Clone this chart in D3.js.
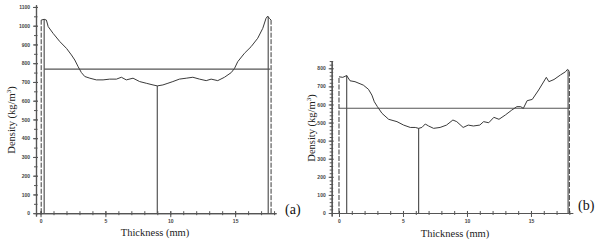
<!DOCTYPE html>
<html>
<head>
<meta charset="utf-8">
<script src="https://cdn.jsdelivr.net/npm/d3@7"></script>
<style>
  body { margin: 0; background: #fff; }
  svg { display: block; }
</style>
</head>
<body>
<svg id="chart" width="605" height="240"></svg>
<script>
// Panel (a) density profile
var thicknessA = [0.05, 0.28, 0.45, 0.59, 0.97, 1.49, 2.0, 2.38, 2.64, 2.9, 3.15, 3.41, 3.8, 4.3, 4.82, 5.33, 5.85, 6.23, 6.61, 7.13, 7.64, 8.15, 8.67, 9.0, 9.43, 9.82, 10.2, 10.7, 11.23, 11.74, 12.26, 12.77, 13.15, 13.66, 14.18, 14.7, 14.95, 15.2, 15.72, 16.23, 16.74, 17.13, 17.38, 17.51, 17.64, 17.77];
var densityA = [1030, 1034, 1030, 995, 959, 915, 879, 844, 817, 781, 750, 729, 720, 711, 711, 715, 715, 725, 711, 720, 702, 693, 684, 679, 684, 693, 702, 715, 720, 725, 715, 707, 715, 707, 725, 750, 772, 808, 853, 888, 933, 986, 1039, 1051, 1039, 1030];
var meanA = 768;
var markersA = [0.28, 9.0, 17.55];

// Panel (b) density profile
var thicknessB = [0.0, 0.3, 0.6, 0.86, 1.25, 1.9, 2.3, 2.57, 2.76, 3.0, 3.36, 3.88, 4.53, 5.05, 5.57, 5.96, 6.22, 6.48, 6.74, 7.0, 7.39, 7.9, 8.4, 8.9, 9.2, 9.7, 10.1, 10.5, 11.0, 11.3, 11.7, 12.1, 12.5, 13.0, 13.5, 13.9, 14.2, 14.4, 14.7, 15.1, 15.6, 16.2, 16.4, 16.8, 17.3, 17.7, 17.85, 18.0];
var densityB = [753, 750, 760, 731, 726, 707, 684, 652, 615, 588, 551, 518, 505, 486, 473, 473, 468, 473, 492, 481, 468, 473, 486, 514, 505, 473, 486, 481, 486, 505, 499, 529, 518, 542, 569, 588, 588, 578, 621, 628, 680, 750, 726, 738, 763, 781, 794, 785];
var meanB = 579;
var markersB = [0.6, 6.22, 17.9];

var xMajor = [0, 5, 10, 15];
var xMinor = d3.range(0, 19);
var yMajorA = d3.range(0, 1101, 100);
var yMinorA = d3.range(0, 1101, 50);
var yMajorB = d3.range(0, 801, 100);
var yMinorB = d3.range(0, 841, 20);

var svg = d3.select("#chart");
var ink = "#3a3a3a";

function panel(cfg) {
    var g = svg.append("g");
    var x = d3.scaleLinear().domain(cfg.xDomain).range(cfg.xRange);
    var y = d3.scaleLinear().domain(cfg.yDomain).range(cfg.yRange);
    var x0 = cfg.xRange[0], y0 = y(0);

    // minor ticks
    g.append("g")
        .attr("transform", "translate(0," + y0 + ")")
        .call(d3.axisBottom(x).tickValues(xMinor).tickSize(2).tickSizeOuter(0).tickFormat(""))
        .call(s => s.selectAll("line").attr("y1", -2));
    g.append("g")
        .attr("transform", "translate(" + x0 + ",0)")
        .call(d3.axisLeft(y).tickValues(cfg.yMinor).tickSize(2).tickSizeOuter(0).tickFormat(""))
        .call(s => s.selectAll("line").attr("x1", 1.5));

    // major ticks with labels
    g.append("g")
        .attr("transform", "translate(0," + y0 + ")")
        .call(d3.axisBottom(x).tickValues(xMajor).tickSize(4).tickSizeOuter(0).tickPadding(2).tickFormat(d3.format("d")))
        .call(s => s.selectAll("line").attr("y1", -2));
    g.append("g")
        .attr("transform", "translate(" + x0 + ",0)")
        .call(d3.axisLeft(y).tickValues(cfg.yMajor).tickSize(3).tickSizeOuter(0).tickPadding(3).tickFormat(d3.format("d")))
        .call(s => s.selectAll("line").attr("x1", 2));

    g.selectAll(".domain").attr("stroke", "#555").attr("stroke-width", 1.2);
    g.selectAll(".tick line").attr("stroke", "#555");
    g.selectAll(".tick text")
        .attr("font-family", "Arial, 'Liberation Sans', sans-serif")
        .attr("font-size", 5)
        .attr("font-weight", "bold")
        .attr("fill", "#444");

    var pts = cfg.t.map((d, i) => [d, cfg.d[i]]);
    var first = pts[0], last = pts[pts.length - 1];

    // dashed edges of the profile
    [first, last].forEach(p => {
        g.append("line")
            .attr("x1", x(p[0])).attr("x2", x(p[0]))
            .attr("y1", y(0)).attr("y2", y(p[1]))
            .attr("stroke", ink).attr("stroke-width", 1)
            .attr("stroke-dasharray", "5,1.5");
    });

    // marker verticals
    var interp = t => {
        for (var i = 1; i < pts.length; i++) {
            if (pts[i][0] >= t) {
                var a = pts[i - 1], b = pts[i];
                return a[1] + (b[1] - a[1]) * (t - a[0]) / (b[0] - a[0]);
            }
        }
        return last[1];
    };
    cfg.markers.forEach(m => {
        g.append("line")
            .attr("x1", x(m)).attr("x2", x(m))
            .attr("y1", y(0)).attr("y2", y(interp(m)))
            .attr("stroke", "#555").attr("stroke-width", 1.2);
    });

    // mean line
    g.append("line")
        .attr("x1", x(cfg.meanFrom)).attr("x2", x(cfg.meanTo))
        .attr("y1", y(cfg.mean)).attr("y2", y(cfg.mean))
        .attr("stroke", "#555").attr("stroke-width", 1.2);

    // profile curve
    g.append("path")
        .datum(pts)
        .attr("fill", "none")
        .attr("stroke", ink)
        .attr("stroke-width", 1)
        .attr("d", d3.line().x(d => x(d[0])).y(d => y(d[1])));

    // labels
    var ylab = g.append("text")
        .attr("transform", "translate(" + cfg.yLabelX + "," + cfg.yLabelY + ") rotate(-90)")
        .attr("text-anchor", "middle")
        .attr("font-family", "'Liberation Serif', 'Times New Roman', serif")
        .attr("font-size", 10.5)
        .attr("fill", "#222");
    ylab.append("tspan").text("Density (kg/m");
    ylab.append("tspan").attr("font-size", 7).attr("dy", -4).text("3");
    ylab.append("tspan").attr("dy", 4).text(")");

    g.append("text")
        .attr("x", cfg.xLabelX).attr("y", cfg.xLabelY)
        .attr("text-anchor", "middle")
        .attr("font-family", "'Liberation Serif', 'Times New Roman', serif")
        .attr("font-size", 10.5)
        .attr("fill", "#222")
        .text("Thickness (mm)");

    g.append("text")
        .attr("x", cfg.tagX).attr("y", cfg.tagY)
        .attr("font-family", "'Liberation Serif', 'Times New Roman', serif")
        .attr("font-size", 14)
        .attr("fill", "#111")
        .text(cfg.tag);
}

panel({
    t: thicknessA, d: densityA, mean: meanA, markers: markersA,
    meanFrom: 0.28, meanTo: 17.7,
    xDomain: [-0.35, 18.15], xRange: [36, 276],
    yDomain: [-15, 1112], yRange: [216, 4.7],
    yMajor: yMajorA, yMinor: yMinorA,
    yLabelX: 15, yLabelY: 120, xLabelX: 155, xLabelY: 236,
    tag: "(a)", tagX: 285, tagY: 214
});

panel({
    t: thicknessB, d: densityB, mean: meanB, markers: markersB,
    meanFrom: 0.0, meanTo: 18.0,
    xDomain: [-0.57, 18.26], xRange: [331.7, 572.7],
    yDomain: [-16.6, 842], yRange: [216, 60.7],
    yMajor: yMajorB, yMinor: yMinorB,
    yLabelX: 315, yLabelY: 128, xLabelX: 455, xLabelY: 237,
    tag: "(b)", tagX: 578, tagY: 210
});
</script>
</body>
</html>
